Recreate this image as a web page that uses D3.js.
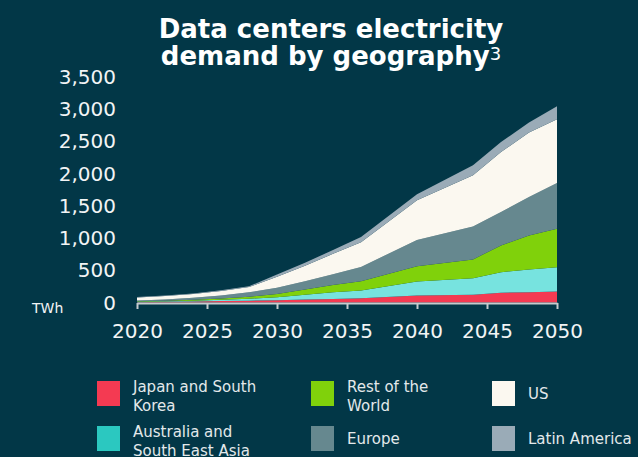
<!DOCTYPE html>
<html>
<head>
<meta charset="utf-8">
<script src="https://cdn.jsdelivr.net/npm/d3@7/dist/d3.min.js"></script>
<style>
  html, body { margin: 0; padding: 0; background: #023747; }
  svg { display: block; }
</style>
</head>
<body>
<svg id="chart"></svg>
<script>
// values, TWh per region
const years = [2020, 2022, 2024, 2026, 2028, 2030, 2032, 2034, 2036, 2040, 2044, 2046, 2048, 2050];
const japanKorea = [5, 10, 16, 22, 28, 34, 45, 55, 67, 109, 120, 151, 160, 171];
const australiaSEA = [5, 8, 12, 20, 31, 46, 75, 105, 119, 217, 257, 320, 352, 377];
const restOfWorld = [8, 10, 14, 20, 31, 52, 80, 110, 145, 238, 291, 414, 528, 597];
const europe = [12, 20, 33, 48, 68, 98, 130, 170, 219, 407, 512, 517, 595, 708];
const us = [48, 52, 55, 70, 82, 170, 240, 315, 386, 613, 792, 932, 1000, 989];
const latinAmerica = [7, 8, 8, 10, 12, 35, 45, 60, 78, 93, 156, 155, 156, 202];

const yTicks = [0, 500, 1000, 1500, 2000, 2500, 3000, 3500];
const xTicks = [2020, 2025, 2030, 2035, 2040, 2045, 2050];

const series = [
  { key: 'japan', label: ['Japan and South', 'Korea'], values: japanKorea, fill: '#f43a52', swatch: '#f43a52' },
  { key: 'aus', label: ['Australia and', 'South East Asia'], values: australiaSEA, fill: '#77e3df', swatch: '#2bc8c0' },
  { key: 'row', label: ['Rest of the', 'World'], values: restOfWorld, fill: '#80d10b', swatch: '#80d10b' },
  { key: 'europe', label: ['Europe'], values: europe, fill: '#66888f', swatch: '#66888f' },
  { key: 'us', label: ['US'], values: us, fill: '#fbf8f0', swatch: '#fbf8f0' },
  { key: 'latam', label: ['Latin America'], values: latinAmerica, fill: '#9aabb7', swatch: '#9aabb7' }
];

const width = 638, height = 457;
const font = "'DejaVu Sans', Verdana, sans-serif";

const svg = d3.select('#chart')
  .attr('width', width)
  .attr('height', height)
  .style('background', '#023747');

// rows for the stack
const table = years.map((yr, i) => {
  const row = { year: yr };
  series.forEach(s => { row[s.key] = s.values[i]; });
  return row;
});

const stack = d3.stack().keys(series.map(s => s.key));
const layers = stack(table);

const x = d3.scaleLinear().domain([2020, 2050]).range([137, 557]);
const y = d3.scaleLinear().domain([0, 3500]).range([302.5, 76.8]);

const area = d3.area()
  .x(d => x(d.data.year))
  .y0(d => y(d[0]))
  .y1(d => y(d[1]));

svg.append('g')
  .selectAll('path')
  .data(layers)
  .join('path')
  .attr('d', area)
  .attr('fill', (d, i) => series[i].fill);

// y labels, no axis line
svg.append('g')
  .selectAll('text')
  .data(yTicks)
  .join('text')
  .attr('x', 116)
  .attr('y', d => y(d))
  .attr('dy', '0.36em')
  .attr('text-anchor', 'end')
  .attr('fill', '#f2f4f5')
  .style('font', `20px ${font}`)
  .text(d => d3.format(',')(d));

svg.append('text')
  .attr('x', 32)
  .attr('y', 313)
  .attr('fill', '#f2f4f5')
  .style('font', `14px ${font}`)
  .text('TWh');

// x axis
const xAxis = svg.append('g')
  .attr('transform', 'translate(0,303)')
  .call(d3.axisBottom(x).tickValues(xTicks).tickFormat(d3.format('d')).tickSize(6).tickSizeOuter(0));

xAxis.select('.domain').attr('stroke', '#c5cbce').attr('stroke-width', 2);
xAxis.selectAll('.tick line').attr('stroke', '#c5cbce').attr('stroke-width', 2);
xAxis.selectAll('.tick text')
  .attr('fill', '#f2f4f5')
  .attr('y', 21)
  .style('font', `20px ${font}`);

// title
const title = svg.append('text')
  .attr('text-anchor', 'middle')
  .attr('fill', '#ffffff')
  .style('font', `bold 26px ${font}`);
title.append('tspan').attr('x', 331).attr('y', 38).text('Data centers electricity');
const line2 = title.append('tspan').attr('x', 331).attr('y', 64.5);
line2.append('tspan').text('demand by geography');
line2.append('tspan')
  .attr('dy', -5)
  .style('font', `normal 18px ${font}`)
  .text('3');

// legend, 3 columns x 2 rows
const legendPos = [
  { sx: 97, sy: 381 },
  { sx: 97, sy: 426 },
  { sx: 311, sy: 381 },
  { sx: 311, sy: 426 },
  { sx: 492, sy: 381 },
  { sx: 492, sy: 426 }
];

const legend = svg.append('g')
  .selectAll('g')
  .data(series)
  .join('g')
  .attr('transform', (d, i) => `translate(${legendPos[i].sx},${legendPos[i].sy})`);

legend.append('rect')
  .attr('width', 23)
  .attr('height', 25)
  .attr('fill', d => d.swatch);

legend.append('text')
  .attr('fill', '#e3e9eb')
  .style('font', `15px ${font}`)
  .each(function (d) {
    const t = d3.select(this);
    const start = d.label.length === 1 ? 18 : 10.5;
    d.label.forEach((ln, j) => {
      t.append('tspan')
        .attr('x', 36)
        .attr('y', start + j * 19.5)
        .text(ln);
    });
  });
</script>
</body>
</html>
